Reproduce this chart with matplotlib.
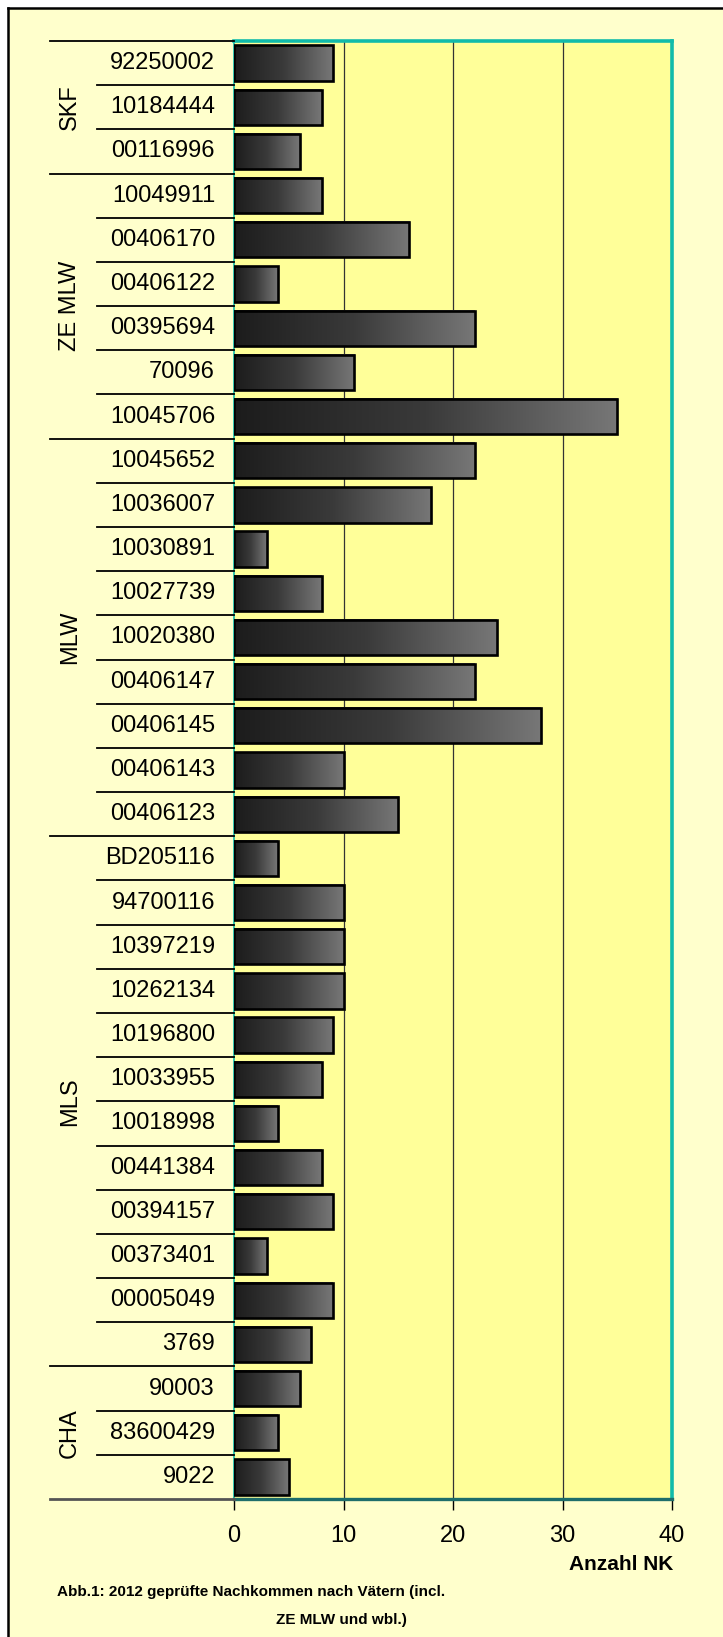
import numpy as np
import matplotlib
matplotlib.use("Agg")
import matplotlib.pyplot as plt
from matplotlib.patches import Rectangle
from matplotlib.lines import Line2D
from matplotlib.colors import LinearSegmentedColormap
import matplotlib.transforms as mtrans

# ---------------- data ----------------
groups = ["SKF", "ZE MLW", "MLW", "MLS", "CHA"]
group_members = [
    ["92250002", "10184444", "00116996"],
    ["10049911", "00406170", "00406122", "00395694", "70096", "10045706"],
    ["10045652", "10036007", "10030891", "10027739", "10020380", "00406147",
     "00406145", "00406143", "00406123"],
    ["BD205116", "94700116", "10397219", "10262134", "10196800", "10033955",
     "10018998", "00441384", "00394157", "00373401", "00005049", "3769"],
    ["90003", "83600429", "9022"],
]
values_skf = [9, 8, 6]
values_zemlw = [8, 16, 4, 22, 11, 35]
values_mlw = [22, 18, 3, 8, 24, 22, 28, 10, 15]
values_mls = [4, 10, 10, 10, 9, 8, 4, 8, 9, 3, 9, 7]
values_cha = [6, 4, 5]
group_values = [values_skf, values_zemlw, values_mlw, values_mls, values_cha]

x_ticks = [0, 10, 20, 30, 40]
x_label = "Anzahl NK"
caption1 = "Abb.1: 2012 geprüfte Nachkommen nach Vätern (incl."
caption2 = "ZE MLW und wbl.)"

labels = [l for g in group_members for l in g]
values = [v for g in group_values for v in g]
n = len(labels)

plt.rcParams['font.family'] = ['Liberation Sans', 'DejaVu Sans']

W, H = 723, 1637
fig = plt.figure(figsize=(W / 100, H / 100), dpi=100)
fig.patch.set_facecolor("white")

def fx(px):
    return px / W

def fy(py):
    return 1 - py / H

# outer light yellow panel with black left/top border
fig.patches.append(Rectangle((fx(8), 0), 1, fy(8), transform=fig.transFigure,
                             facecolor="#FFFFCC", edgecolor="none", zorder=-10))
fig.lines.append(Line2D([fx(8), 1], [fy(8), fy(8)], transform=fig.transFigure,
                        color="black", lw=1.8, zorder=1))
fig.lines.append(Line2D([fx(8), fx(8)], [fy(8), 0], transform=fig.transFigure,
                        color="black", lw=1.8, zorder=1))

left, right, top, bottom = 234, 672, 41, 1499
ax = fig.add_axes([fx(left), fy(bottom), fx(right - left), (bottom - top) / H])
ax.set_facecolor("#FFFF99")

ypos = np.arange(n)
bar_h = 0.8
cmap = LinearSegmentedColormap.from_list("g", ["#1c1c1c", "#3a3a3a", "#777777"])
grad = np.linspace(0, 1, 256).reshape(1, -1)
bars = ax.barh(ypos, values, height=bar_h, facecolor="none", edgecolor="black",
               linewidth=1.9, zorder=4)
for rect in bars:
    x0, y0 = rect.get_x(), rect.get_y()
    w, h = rect.get_width(), rect.get_height()
    ax.imshow(grad, cmap=cmap, aspect="auto", extent=(x0, x0 + w, y0 + h, y0),
              zorder=3, interpolation="bilinear")

ax.set_xlim(0, 40)
ax.set_ylim(n - 0.5, -0.5)
ax.set_xticks(x_ticks)
ax.set_xticklabels([str(t) for t in x_ticks], fontsize=17)
ax.tick_params(axis="x", length=8, width=1, color="black", pad=11, direction="out")
ax.set_yticks([])
for t in x_ticks[1:-1]:
    ax.axvline(t, color="#333333", lw=0.9, zorder=1)

ax.spines["top"].set_color("#11BBAA")
ax.spines["top"].set_linewidth(2.6)
ax.spines["right"].set_color("#11BBAA")
ax.spines["right"].set_linewidth(2.6)
ax.spines["left"].set_color("#11BBAA")
ax.spines["left"].set_linewidth(1.2)
ax.spines["bottom"].set_color("#1E6E6A")
ax.spines["bottom"].set_linewidth(2.4)

# category labels
trans = mtrans.blended_transform_factory(ax.transAxes, ax.transData)
lab_x = (215 - left) / (right - left)
for i, lab in enumerate(labels):
    ax.text(lab_x, i, lab, transform=trans, ha="right", va="center",
            fontsize=17, color="black")

# separators
grp_x = (50 - left) / (right - left)
sub_x = (97 - left) / (right - left)
bounds = np.cumsum([len(g) for g in group_members])
starts = np.concatenate([[0], bounds[:-1]])
group_edges = set(bounds.tolist()) | {0}
for b in range(n + 1):
    xs = grp_x if b in group_edges else sub_x
    ax.plot([xs, 0], [b - 0.5, b - 0.5], transform=trans,
            color="black" if b != n else "#555555",
            lw=1.3 if b != n else 2.0, clip_on=False, zorder=5)

grp_lab_x = (70 - left) / (right - left)
for g, s, e in zip(groups, starts, bounds):
    ax.text(grp_lab_x, (s + e - 1) / 2, g, transform=trans, rotation=90,
            ha="center", va="center", fontsize=17, color="black")

fig.text(fx(673), fy(1565), x_label, ha="right", va="center",
         fontsize=15, fontweight="bold")
fig.text(fx(57), fy(1592), caption1, ha="left", va="center", fontsize=11,
         fontweight="bold")
fig.text(fx(341), fy(1620), caption2, ha="center", va="center", fontsize=11,
         fontweight="bold")

fig.savefig("out.png", dpi=100, facecolor=fig.get_facecolor())
